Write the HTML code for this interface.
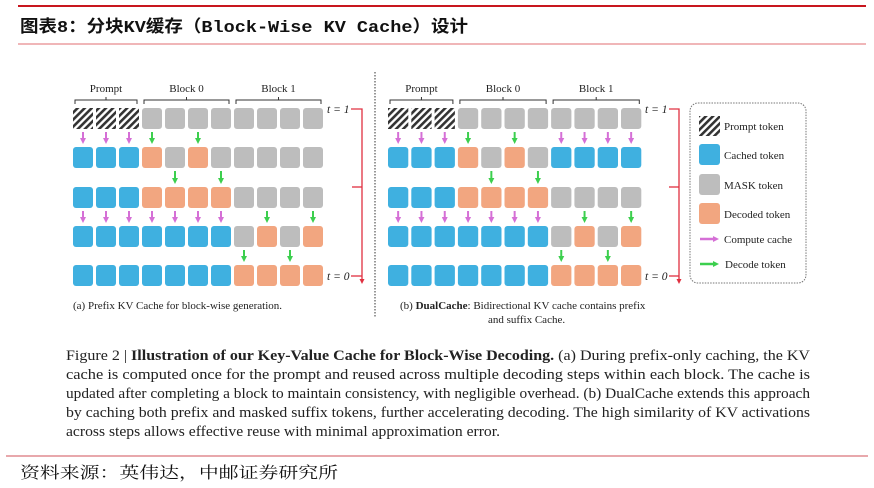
<!DOCTYPE html>
<html><head><meta charset="utf-8"><style>
body{margin:0;width:874px;height:488px;background:#fff;overflow:hidden;position:relative;font-family:"Liberation Serif",serif}
</style></head><body>
<svg width="874" height="488" style="position:absolute;left:0;top:0" xmlns="http://www.w3.org/2000/svg">
<defs>
<pattern id="h" width="5" height="5" patternUnits="userSpaceOnUse" patternTransform="rotate(45)">
<rect width="5" height="5" fill="#fff"/><rect width="2.6" height="5" fill="#333"/></pattern>
<marker id="mp" markerUnits="userSpaceOnUse" markerWidth="6" markerHeight="6" refX="1" refY="3" orient="auto"><path d="M0,0L6,3L0,6z" fill="#d56fd6"/></marker>
<marker id="mg" markerUnits="userSpaceOnUse" markerWidth="6" markerHeight="6" refX="1" refY="3" orient="auto"><path d="M0,0L6,3L0,6z" fill="#3ccf4e"/></marker>
<marker id="mr" markerUnits="userSpaceOnUse" markerWidth="5" markerHeight="5" refX="1" refY="2.5" orient="auto"><path d="M0,0L5,2.5L0,5z" fill="#e03040"/></marker>
</defs>
<line x1="18" y1="6" x2="866" y2="6" stroke="#c8161e" stroke-width="2"/>
<line x1="18" y1="44" x2="866" y2="44" stroke="#e88a8e" stroke-width="1.2"/>
<text x="20" y="32" font-family="'Liberation Mono','Noto Sans CJK SC',monospace" font-size="17" font-weight="bold" fill="#111" textLength="448" lengthAdjust="spacingAndGlyphs">图表8：分块KV缓存（Block-Wise KV Cache）设计</text>
<line x1="6" y1="456" x2="868" y2="456" stroke="#d9737a" stroke-width="1.2"/>
<text x="20" y="478" font-family="'Noto Serif CJK SC','Noto Sans CJK SC',serif" font-size="16" fill="#111" textLength="318" lengthAdjust="spacingAndGlyphs">资料来源：英伟达，中邮证券研究所</text>
<line x1="375" y1="72" x2="375" y2="318" stroke="#555" stroke-width="1.2" stroke-dasharray="1.5,1.5"/>
<g id="g"></g>
<rect x="690" y="103" width="116" height="180" rx="8" fill="none" stroke="#777" stroke-dasharray="1.5,1.2"/>
<rect x="699" y="116" width="21" height="20" fill="url(#h)"/>
<rect x="699" y="144" width="21" height="21" rx="3" fill="#3fb0e0"/>
<rect x="699" y="174" width="21" height="21" rx="3" fill="#bdbdbd"/>
<rect x="699" y="203" width="21" height="21" rx="3" fill="#f2a680"/>
<line x1="700" y1="239" x2="714" y2="239" stroke="#d56fd6" stroke-width="2.5" marker-end="url(#mp)"/>
<line x1="700" y1="264" x2="714" y2="264" stroke="#3ccf4e" stroke-width="2.5" marker-end="url(#mg)"/>
<g font-size="11" fill="#222">
<text x="724" y="130">Prompt token</text><text x="724" y="159">Cached token</text>
<text x="724" y="189">MASK token</text><text x="724" y="218">Decoded token</text>
<text x="724" y="243">Compute cache</text><text x="725" y="268">Decode token</text>
<text x="73" y="309">(a)  Prefix KV Cache for block-wise generation.</text>
<text x="400" y="309">(b) <tspan font-weight="bold">DualCache</tspan>: Bidirectional KV cache contains prefix</text>
<text x="488" y="323">and suffix Cache.</text>
</g>
<g font-size="15" fill="#222">
<text x="66" y="360" textLength="744" lengthAdjust="spacingAndGlyphs">Figure 2 | <tspan font-weight="bold">Illustration of our Key-Value Cache for Block-Wise Decoding.</tspan> (a) During prefix-only caching, the KV</text>
<text x="66" y="379" textLength="744" lengthAdjust="spacingAndGlyphs">cache is computed once for the prompt and reused across multiple decoding steps within each block.  The cache is</text>
<text x="66" y="398" textLength="744" lengthAdjust="spacingAndGlyphs">updated after completing a block to maintain consistency, with negligible overhead. (b) DualCache extends this approach</text>
<text x="66" y="417" textLength="744" lengthAdjust="spacingAndGlyphs">by caching both prefix and masked suffix tokens, further accelerating decoding. The high similarity of KV activations</text>
<text x="66" y="436" textLength="434" lengthAdjust="spacingAndGlyphs">across steps allows effective reuse with minimal approximation error.</text>
</g>
</svg>
<script>
var NS="http://www.w3.org/2000/svg",g=document.getElementById("g");
function el(t,a,txt){var e=document.createElementNS(NS,t);for(var k in a)e.setAttribute(k,a[k]);if(txt)e.textContent=txt;g.appendChild(e);return e;}
var C={P:"url(#h)",B:"#3fb0e0",G:"#bdbdbd",O:"#f2a680"};
var ys=[108,147,187,226,265];
function panel(x0,p,rows,arrows,tx,vx){
 rows.forEach(function(r,i){for(var j=0;j<11;j++){var c=r[j];el("rect",{x:x0+j*p,y:ys[i],width:p-3,height:21,rx:c=="P"?0:3,fill:C[c]});}});
 arrows.forEach(function(a,i){for(var j=0;j<11;j++){var c=a[j];if(c=="."||c==" "||!c)continue;var cx=x0+j*p+(p-3)/2;
  el("line",{x1:cx,y1:ys[i]+24,x2:cx,y2:ys[i+1]-8,stroke:c=="p"?"#d56fd6":"#3ccf4e","stroke-width":2,"marker-end":c=="p"?"url(#mp)":"url(#mg)"});}});
 [[0,2,"Prompt"],[3,6,"Block 0"],[7,10,"Block 1"]].forEach(function(b){var a=x0+b[0]*p+2,e=x0+b[1]*p+p-5,m=(a+e)/2;
  el("path",{d:"M"+a+",104 V100 H"+e+" V104 M"+m+",100 V97",fill:"none",stroke:"#333","stroke-width":1});
  el("text",{x:m,y:92,"font-size":11,"text-anchor":"middle",fill:"#222"},b[2]);});
 el("text",{x:tx,y:113,"font-size":11.5,"font-style":"italic",fill:"#222"},"t = 1");
 el("text",{x:tx,y:280,"font-size":11.5,"font-style":"italic",fill:"#222"},"t = 0");
 el("path",{d:"M"+(tx+24)+",109 H"+vx+" V280",fill:"none",stroke:"#e03040","stroke-width":1.3,"marker-end":"url(#mr)"});
 el("line",{x1:tx+24,y1:276,x2:vx,y2:276,stroke:"#e03040","stroke-width":1.3});
 el("line",{x1:vx-10,y1:187,x2:vx,y2:187,stroke:"#e03040","stroke-width":1.3});
}
var rowsA=["PPPGGGGGGGG","BBBOGOGGGGG","BBBOOOOGGGG","BBBBBBBGOGO","BBBBBBBOOOO"];
var arrA=["pppg.g.....","....g.g....","ppppppp.g.g",".......g.g."];
panel(73,23,rowsA,arrA,327,362);
var rowsB=["PPPGGGGGGGG","BBBOGOGBBBB","BBBOOOOGGGG","BBBBBBBGOGO","BBBBBBBOOOO"];
var arrB=["pppg.g.pppp","....g.g....","ppppppp.g.g",".......g.g."];
panel(388,23.3,rowsB,arrB,645,679);
</script>
</body></html>
